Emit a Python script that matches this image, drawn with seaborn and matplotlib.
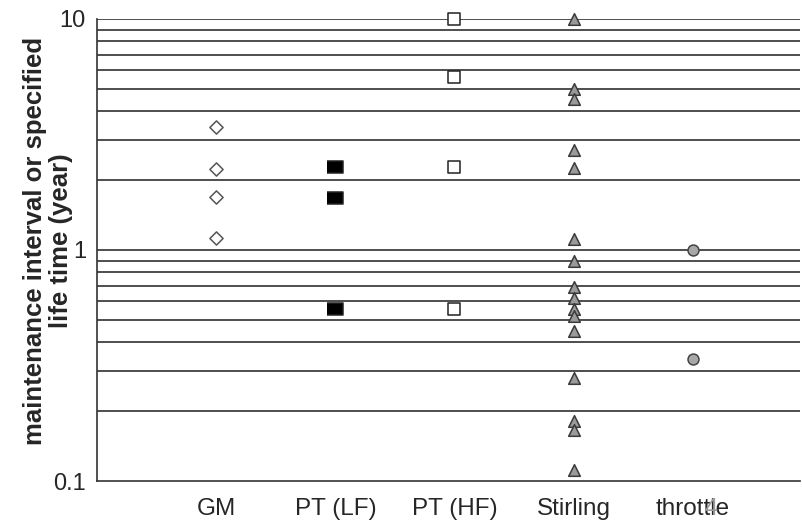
import matplotlib
matplotlib.use('Agg')
import matplotlib.pyplot as plt
import seaborn as sns
import pandas as pd
import numpy as np

categories = ['GM', 'PT (LF)', 'PT (HF)', 'Stirling', 'throttle']
gm_values = [3.4, 2.25, 1.7, 1.13]
pt_lf_values = [2.28, 1.68, 0.555]
pt_hf_values = [10, 5.6, 2.28, 0.555]
stirling_values = [10, 5.0, 4.5, 2.7, 2.26, 1.12, 0.9, 0.69, 0.62, 0.555, 0.52,
                   0.447, 0.278, 0.181, 0.166, 0.112]
throttle_values = [1.0, 0.336]

series = [gm_values, pt_lf_values, pt_hf_values, stirling_values, throttle_values]
rows = []
for cat, vals in zip(categories, series):
    for v in vals:
        rows.append({'category': cat, 'value': v})
df = pd.DataFrame(rows)
df['pos'] = df['category'].map({c: i for i, c in enumerate(categories)})

sns.set_style('white')
plt.rcParams['font.family'] = ['Liberation Sans', 'DejaVu Sans']

rect = [(-0.62, -0.5), (0.62, -0.5), (0.62, 0.5), (-0.62, 0.5)]
styles = {
    'GM': dict(marker='D', s=45, facecolor='white', edgecolor='#555555'),
    'PT (LF)': dict(marker=rect, s=120, facecolor='black', edgecolor='#222222'),
    'PT (HF)': dict(marker='s', s=70, facecolor='white', edgecolor='#222222'),
    'Stirling': dict(marker='^', s=70, facecolor='#9a9a9a', edgecolor='#3a3a3a'),
    'throttle': dict(marker='o', s=62, facecolor='#a8a8a8', edgecolor='#444444'),
}

fig = plt.figure(figsize=(8.02, 5.20), dpi=100)
ax = fig.add_axes([0.121, 0.075, 0.8765, 0.8885])
ax.set_yscale('log')

grid_levels = [k * d for d in [0.1, 1] for k in range(2, 10)] + [1, 10]
for g in grid_levels:
    ax.axhline(g, color='#1e1e1e', lw=1.1, zorder=1)

for cat in categories:
    sub = df[df['category'] == cat]
    st = styles[cat]
    sns.scatterplot(data=sub, x='pos', y='value', ax=ax, marker=st['marker'], s=st['s'],
                    color=st['facecolor'], edgecolor=st['edgecolor'], linewidth=1.1,
                    clip_on=False, zorder=3, legend=False)

ax.set_xlim(-1, 4.9)
ax.set_ylim(0.1, 10)
ax.set_xticks(range(len(categories)))
ax.set_xticklabels(categories)
ax.set_yticks([0.1, 1, 10])
ax.set_yticklabels(['0.1', '1', '10'])
ax.yaxis.set_minor_locator(matplotlib.ticker.NullLocator())
ax.tick_params(axis='x', direction='in', length=5, width=1, color='#333333',
               labelsize=17.5, pad=12)
ax.tick_params(axis='y', length=0, labelsize=17, pad=8)
ax.set_xlabel('')
ax.set_ylabel('maintenance interval or specified\nlife time (year)', fontsize=18.5,
              fontweight='bold', linespacing=1.1)
ax.yaxis.set_label_coords(-0.034, 0.52)

for side in ['top', 'right']:
    ax.spines[side].set_visible(False)
for side in ['left', 'bottom']:
    ax.spines[side].set_color('#333333')
    ax.spines[side].set_linewidth(1.2)

fig.text(0.878, 0.0, '4', color='#9a9a9a', fontsize=17, va='bottom')

fig.savefig('out.png', dpi=100)
